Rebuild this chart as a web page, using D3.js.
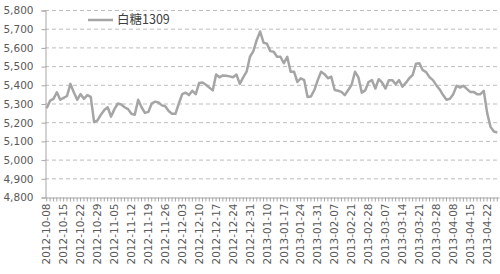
<!DOCTYPE html>
<html>
<head>
<meta charset="utf-8">
<script src="https://cdn.jsdelivr.net/npm/d3@7"></script>
<style>
  body { margin: 0; background: #fff; }
  text { font-family: "DejaVu Sans", sans-serif; }
</style>
</head>
<body>
<div id="chart"></div>
<script>
// trading days, 2012-10-08 .. 2013-04-25
const dates = [
  "2012-10-08","2012-10-09","2012-10-10","2012-10-11","2012-10-12","2012-10-15","2012-10-16","2012-10-17","2012-10-18","2012-10-19",
  "2012-10-22","2012-10-23","2012-10-24","2012-10-25","2012-10-26","2012-10-29","2012-10-30","2012-10-31",
  "2012-11-01","2012-11-02","2012-11-05","2012-11-06","2012-11-07","2012-11-08","2012-11-09","2012-11-12","2012-11-13","2012-11-14",
  "2012-11-15","2012-11-16","2012-11-19","2012-11-20","2012-11-21","2012-11-22","2012-11-23","2012-11-26","2012-11-27","2012-11-28",
  "2012-11-29","2012-11-30",
  "2012-12-03","2012-12-04","2012-12-05","2012-12-06","2012-12-07","2012-12-10","2012-12-11","2012-12-12","2012-12-13","2012-12-14",
  "2012-12-17","2012-12-18","2012-12-19","2012-12-20","2012-12-21","2012-12-24","2012-12-25","2012-12-26","2012-12-27","2012-12-28",
  "2012-12-31",
  "2013-01-04","2013-01-07","2013-01-08","2013-01-09","2013-01-10","2013-01-11","2013-01-14","2013-01-15","2013-01-16","2013-01-17",
  "2013-01-18","2013-01-21","2013-01-22","2013-01-23","2013-01-24","2013-01-25","2013-01-28","2013-01-29","2013-01-30","2013-01-31",
  "2013-02-01","2013-02-04","2013-02-05","2013-02-06","2013-02-07","2013-02-08","2013-02-18","2013-02-19","2013-02-20","2013-02-21",
  "2013-02-22","2013-02-25","2013-02-26","2013-02-27","2013-02-28",
  "2013-03-01","2013-03-04","2013-03-05","2013-03-06","2013-03-07","2013-03-08","2013-03-11","2013-03-12","2013-03-13","2013-03-14",
  "2013-03-15","2013-03-18","2013-03-19","2013-03-20","2013-03-21","2013-03-22","2013-03-25","2013-03-26","2013-03-27","2013-03-28",
  "2013-03-29",
  "2013-04-01","2013-04-02","2013-04-03","2013-04-08","2013-04-09","2013-04-10","2013-04-11","2013-04-12","2013-04-15","2013-04-16",
  "2013-04-17","2013-04-18","2013-04-19","2013-04-22","2013-04-23","2013-04-24","2013-04-25"
];

const sugar1309 = [
  5275,5315,5325,5360,5320,5330,5340,5405,5360,5320,
  5350,5325,5345,5335,5200,5210,5240,5265,5280,5230,
  5270,5300,5295,5280,5270,5245,5240,5320,5280,5250,
  5255,5300,5310,5305,5290,5285,5260,5245,5245,5300,
  5350,5358,5345,5368,5350,5410,5412,5400,5385,5370,
  5455,5440,5450,5448,5445,5440,5455,5405,5440,5470,
  5550,5580,5640,5685,5625,5620,5580,5577,5550,5550,
  5515,5550,5470,5470,5415,5435,5425,5335,5338,5372,
  5425,5470,5457,5435,5443,5372,5368,5362,5345,5372,
  5400,5470,5440,5358,5370,5415,5425,5380,5430,5412,
  5380,5425,5425,5403,5425,5390,5410,5435,5452,5513,
  5515,5478,5468,5440,5425,5398,5375,5345,5320,5325,
  5350,5395,5385,5395,5378,5362,5362,5350,5350,5368,
  5250,5175,5150,5145
];

const yTicks = [4800,4900,5000,5100,5200,5300,5400,5500,5600,5700,5800];
const seriesName = "白糖1309";

const W = 500, H = 274;
const plot = {left: 45, right: 499, top: 10, bottom: 197};

const svg = d3.select("#chart").append("svg")
  .attr("width", W).attr("height", H);

const x = d3.scaleBand().domain(d3.range(dates.length)).range([plot.left, plot.right]);
const y = d3.scaleLinear().domain([4800, 5800]).range([plot.bottom, plot.top]);

// grid
svg.append("g")
  .selectAll("line")
  .data(yTicks.slice(1))
  .enter().append("line")
  .attr("x1", plot.left).attr("x2", plot.right)
  .attr("y1", d => y(d) + 0.5).attr("y2", d => y(d) + 0.5)
  .attr("stroke", "#bdbdbd")
  .attr("stroke-dasharray", "4,3");

// y axis
const yaxis = svg.append("g")
  .attr("transform", `translate(${plot.left + 0.5},0.5)`)
  .call(d3.axisLeft(y).tickValues(yTicks).tickSize(4).tickPadding(8).tickFormat(d3.format(",")));
yaxis.select(".domain").attr("stroke", "#a6a6a6");
yaxis.selectAll(".tick line").attr("stroke", "#a6a6a6");
yaxis.selectAll("text").attr("fill", "#595959").style("font-size", "10.5px");

// x axis: tick per category, label every 5th
const xaxis = svg.append("g")
  .attr("transform", `translate(0,${plot.bottom + 0.5})`)
  .call(d3.axisBottom(x).tickSize(4).tickSizeOuter(0)
    .tickFormat((d, i) => i % 5 === 0 ? dates[i] : ""));
xaxis.select(".domain").attr("stroke", "#a6a6a6");
xaxis.selectAll(".tick line").attr("stroke", "#a6a6a6");
xaxis.selectAll("text")
  .attr("fill", "#595959")
  .style("font-size", "10.5px")
  .attr("transform", "rotate(-90)")
  .attr("text-anchor", "end")
  .attr("x", -6)
  .attr("y", 0)
  .attr("dy", "0.35em");

// line
const line = d3.line()
  .x((d, i) => x(i) + x.bandwidth() / 2)
  .y(d => y(d));

svg.append("path")
  .datum(sugar1309)
  .attr("fill", "none")
  .attr("stroke", "#a5a5a5")
  .attr("stroke-width", 2.5)
  .attr("stroke-linejoin", "round")
  .attr("d", line);

// legend
const leg = svg.append("g");
leg.append("line")
  .attr("x1", 88).attr("x2", 113).attr("y1", 20).attr("y2", 20)
  .attr("stroke", "#a5a5a5").attr("stroke-width", 2.5);
leg.append("text")
  .attr("x", 117).attr("y", 20).attr("dy", "0.35em")
  .attr("fill", "#404040")
  .style("font-size", "12.5px")
  .style("font-family", "'Noto Sans CJK SC', sans-serif")
  .text(seriesName);
</script>
</body>
</html>
